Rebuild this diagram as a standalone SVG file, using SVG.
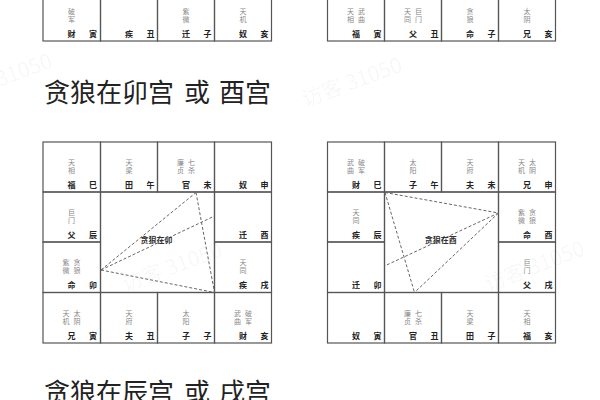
<svg xmlns="http://www.w3.org/2000/svg" width="600" height="400" viewBox="0 0 600 400">
<style>
text{font-family:"Noto Sans CJK SC","Noto Sans",sans-serif}
.c{fill:none;stroke:#555;stroke-width:1.2}
.s{font-size:7px;fill:#888;text-anchor:middle}
.b{font-size:8px;font-weight:700;fill:#222;text-anchor:middle}
.t{font-size:26px;fill:#222}
.k{font-size:8px;font-weight:700;fill:#333;text-anchor:middle}
.w{font-size:21px;fill:#000;fill-opacity:0.04}
.d{fill:none;stroke:#666;stroke-width:1;stroke-dasharray:3 2}
</style>
<rect width="600" height="400" fill="#fff"/>

<!-- watermarks -->
<g id="watermarks">
<text class="w" transform="translate(-45,103) rotate(-20)">访客 31050</text>
<text class="w" transform="translate(305,107) rotate(-20)">访客 31050</text>
<text class="w" transform="translate(125,292) rotate(-20)">访客 31050</text>
<text class="w" transform="translate(488,292) rotate(-21)">访客 31050</text>
</g>

<!-- top-left partial chart -->
<g id="tl-yin"><rect class="c" x="43" y="-9" width="57.5" height="50"/><text class="s"><tspan x="71.5" y="14">破</tspan><tspan x="71.5" y="22">军</tspan></text><text class="b" x="71.5" y="37">财</text><text class="b" x="93" y="37">寅</text></g>
<g id="tl-chou"><rect class="c" x="100.5" y="-9" width="57" height="50"/><text class="b" x="129" y="37">疾</text><text class="b" x="150.5" y="37">丑</text></g>
<g id="tl-zi"><rect class="c" x="157.5" y="-9" width="57" height="50"/><text class="s"><tspan x="186" y="14">紫</tspan><tspan x="186" y="22">微</tspan></text><text class="b" x="186" y="37">迁</text><text class="b" x="207.5" y="37">子</text></g>
<g id="tl-hai"><rect class="c" x="214.5" y="-9" width="57" height="50"/><text class="s"><tspan x="243" y="14">天</tspan><tspan x="243" y="22">机</tspan></text><text class="b" x="243" y="37">奴</text><text class="b" x="264.5" y="37">亥</text></g>

<!-- top-right partial chart -->
<g id="tr-yin"><rect class="c" x="327.5" y="-9" width="57" height="50"/><text class="s"><tspan x="350.5" y="14">天</tspan><tspan x="361.5" y="14">武</tspan><tspan x="350.5" y="22">相</tspan><tspan x="361.5" y="22">曲</tspan></text><text class="b" x="356" y="37">福</text><text class="b" x="377.5" y="37">寅</text></g>
<g id="tr-chou"><rect class="c" x="384.5" y="-9" width="57" height="50"/><text class="s"><tspan x="407.5" y="14">天</tspan><tspan x="418.5" y="14">巨</tspan><tspan x="407.5" y="22">同</tspan><tspan x="418.5" y="22">门</tspan></text><text class="b" x="413" y="37">父</text><text class="b" x="434.5" y="37">丑</text></g>
<g id="tr-zi"><rect class="c" x="441.5" y="-9" width="57" height="50"/><text class="s"><tspan x="470" y="14">贪</tspan><tspan x="470" y="22">狼</tspan></text><text class="b" x="470" y="37">命</text><text class="b" x="491.5" y="37">子</text></g>
<g id="tr-hai"><rect class="c" x="498.5" y="-9" width="57" height="50"/><text class="s"><tspan x="527" y="14">太</tspan><tspan x="527" y="22">阴</tspan></text><text class="b" x="527" y="37">兄</text><text class="b" x="548.5" y="37">亥</text></g>

<!-- titles -->
<text id="title1" class="t" y="101.5"><tspan x="44">贪狼在卯宫</tspan><tspan x="184">或</tspan><tspan x="219">酉宫</tspan></text>
<text id="title2" class="t" y="402"><tspan x="44">贪狼在辰宫</tspan><tspan x="184">或</tspan><tspan x="219">戌宫</tspan></text>

<!-- left main chart: 贪狼在卯 -->
<g id="L-si"><rect class="c" x="43" y="142" width="57.5" height="50"/><text class="s"><tspan x="71.5" y="165">天</tspan><tspan x="71.5" y="173">相</tspan></text><text class="b" x="71.5" y="188">福</text><text class="b" x="93" y="188">巳</text></g>
<g id="L-wu"><rect class="c" x="100.5" y="142" width="57" height="50"/><text class="s"><tspan x="129" y="165">天</tspan><tspan x="129" y="173">梁</tspan></text><text class="b" x="129" y="188">田</text><text class="b" x="150.5" y="188">午</text></g>
<g id="L-wei"><rect class="c" x="157.5" y="142" width="57" height="50"/><text class="s"><tspan x="180.5" y="165">廉</tspan><tspan x="191.5" y="165">七</tspan><tspan x="180.5" y="173">贞</tspan><tspan x="191.5" y="173">杀</tspan></text><text class="b" x="186" y="188">官</text><text class="b" x="207.5" y="188">未</text></g>
<g id="L-shen"><rect class="c" x="214.5" y="142" width="57" height="50"/><text class="b" x="243" y="188">奴</text><text class="b" x="264.5" y="188">申</text></g>
<g id="L-chen"><rect class="c" x="43" y="192" width="57.5" height="50"/><text class="s"><tspan x="71.5" y="215">巨</tspan><tspan x="71.5" y="223">门</tspan></text><text class="b" x="71.5" y="238">父</text><text class="b" x="93" y="238">辰</text></g>
<g id="L-you"><rect class="c" x="214.5" y="192" width="57" height="50"/><text class="b" x="243" y="238">迁</text><text class="b" x="264.5" y="238">酉</text></g>
<g id="L-mao"><rect class="c" x="43" y="242" width="57.5" height="50.5"/><text class="s"><tspan x="66" y="265">紫</tspan><tspan x="77" y="265">贪</tspan><tspan x="66" y="273">微</tspan><tspan x="77" y="273">狼</tspan></text><text class="b" x="71.5" y="288">命</text><text class="b" x="93" y="288">卯</text></g>
<g id="L-xu"><rect class="c" x="214.5" y="242" width="57" height="50.5"/><text class="s"><tspan x="243" y="265">天</tspan><tspan x="243" y="273">同</tspan></text><text class="b" x="243" y="288">疾</text><text class="b" x="264.5" y="288">戌</text></g>
<g id="L-yin"><rect class="c" x="43" y="292.5" width="57.5" height="50.5"/><text class="s"><tspan x="66" y="315.5">天</tspan><tspan x="77" y="315.5">太</tspan><tspan x="66" y="323.5">机</tspan><tspan x="77" y="323.5">阴</tspan></text><text class="b" x="71.5" y="338.5">兄</text><text class="b" x="93" y="338.5">寅</text></g>
<g id="L-chou"><rect class="c" x="100.5" y="292.5" width="57" height="50.5"/><text class="s"><tspan x="129" y="315.5">天</tspan><tspan x="129" y="323.5">府</tspan></text><text class="b" x="129" y="338.5">夫</text><text class="b" x="150.5" y="338.5">丑</text></g>
<g id="L-zi"><rect class="c" x="157.5" y="292.5" width="57" height="50.5"/><text class="s"><tspan x="186" y="315.5">太</tspan><tspan x="186" y="323.5">阳</tspan></text><text class="b" x="186" y="338.5">子</text><text class="b" x="207.5" y="338.5">子</text></g>
<g id="L-hai"><rect class="c" x="214.5" y="292.5" width="57" height="50.5"/><text class="s"><tspan x="237.5" y="315.5">武</tspan><tspan x="248.5" y="315.5">破</tspan><tspan x="237.5" y="323.5">曲</tspan><tspan x="248.5" y="323.5">军</tspan></text><text class="b" x="243" y="338.5">财</text><text class="b" x="264.5" y="338.5">亥</text></g>
<g id="L-center"><rect class="c" x="100.5" y="192" width="114" height="100.5"/></g>

<!-- right main chart: 贪狼在酉 -->
<g id="R-si"><rect class="c" x="327.5" y="142" width="57" height="50"/><text class="s"><tspan x="350.5" y="165">武</tspan><tspan x="361.5" y="165">破</tspan><tspan x="350.5" y="173">曲</tspan><tspan x="361.5" y="173">军</tspan></text><text class="b" x="356" y="188">财</text><text class="b" x="377.5" y="188">巳</text></g>
<g id="R-wu"><rect class="c" x="384.5" y="142" width="57" height="50"/><text class="s"><tspan x="413" y="165">太</tspan><tspan x="413" y="173">阳</tspan></text><text class="b" x="413" y="188">子</text><text class="b" x="434.5" y="188">午</text></g>
<g id="R-wei"><rect class="c" x="441.5" y="142" width="57" height="50"/><text class="s"><tspan x="470" y="165">天</tspan><tspan x="470" y="173">府</tspan></text><text class="b" x="470" y="188">夫</text><text class="b" x="491.5" y="188">未</text></g>
<g id="R-shen"><rect class="c" x="498.5" y="142" width="57" height="50"/><text class="s"><tspan x="521.5" y="165">天</tspan><tspan x="532.5" y="165">太</tspan><tspan x="521.5" y="173">机</tspan><tspan x="532.5" y="173">阴</tspan></text><text class="b" x="527" y="188">兄</text><text class="b" x="548.5" y="188">申</text></g>
<g id="R-chen"><rect class="c" x="327.5" y="192" width="57" height="50"/><text class="s"><tspan x="356" y="215">天</tspan><tspan x="356" y="223">同</tspan></text><text class="b" x="356" y="238">疾</text><text class="b" x="377.5" y="238">辰</text></g>
<g id="R-you"><rect class="c" x="498.5" y="192" width="57" height="50"/><text class="s"><tspan x="521.5" y="215">紫</tspan><tspan x="532.5" y="215">贪</tspan><tspan x="521.5" y="223">微</tspan><tspan x="532.5" y="223">狼</tspan></text><text class="b" x="527" y="238">命</text><text class="b" x="548.5" y="238">酉</text></g>
<g id="R-mao"><rect class="c" x="327.5" y="242" width="57" height="50.5"/><text class="b" x="356" y="288">迁</text><text class="b" x="377.5" y="288">卯</text></g>
<g id="R-xu"><rect class="c" x="498.5" y="242" width="57" height="50.5"/><text class="s"><tspan x="527" y="265">巨</tspan><tspan x="527" y="273">门</tspan></text><text class="b" x="527" y="288">父</text><text class="b" x="548.5" y="288">戌</text></g>
<g id="R-yin"><rect class="c" x="327.5" y="292.5" width="57" height="50.5"/><text class="b" x="356" y="338.5">奴</text><text class="b" x="377.5" y="338.5">寅</text></g>
<g id="R-chou"><rect class="c" x="384.5" y="292.5" width="57" height="50.5"/><text class="s"><tspan x="407.5" y="315.5">廉</tspan><tspan x="418.5" y="315.5">七</tspan><tspan x="407.5" y="323.5">贞</tspan><tspan x="418.5" y="323.5">杀</tspan></text><text class="b" x="413" y="338.5">官</text><text class="b" x="434.5" y="338.5">丑</text></g>
<g id="R-zi"><rect class="c" x="441.5" y="292.5" width="57" height="50.5"/><text class="s"><tspan x="470" y="315.5">天</tspan><tspan x="470" y="323.5">梁</tspan></text><text class="b" x="470" y="338.5">田</text><text class="b" x="491.5" y="338.5">子</text></g>
<g id="R-hai"><rect class="c" x="498.5" y="292.5" width="57" height="50.5"/><text class="s"><tspan x="527" y="315.5">天</tspan><tspan x="527" y="323.5">相</tspan></text><text class="b" x="527" y="338.5">福</text><text class="b" x="548.5" y="338.5">亥</text></g>
<g id="R-center"><rect class="c" x="384.5" y="192" width="114" height="100.5"/></g>

<!-- connectors -->
<g id="connectors">
<line class="d" x1="101" y1="270" x2="196" y2="192.5"/>
<line class="d" x1="101" y1="270" x2="214.5" y2="216"/>
<line class="d" x1="101" y1="270" x2="214.5" y2="292.5"/>
<line class="d" x1="196" y1="192.5" x2="214.5" y2="292.5"/>
<line class="d" x1="385" y1="192.5" x2="498.5" y2="213"/>
<line class="d" x1="385" y1="192.5" x2="414.5" y2="292.5"/>
<line class="d" x1="498.5" y1="213" x2="414.5" y2="292.5"/>
<line class="d" x1="498.5" y1="213" x2="384.5" y2="266"/>
</g>

<g id="L-label"><text class="k" x="156.5" y="243">贪狼在卯</text></g>
<g id="R-label"><text class="k" x="440.8" y="243">贪狼在酉</text></g>
</svg>
